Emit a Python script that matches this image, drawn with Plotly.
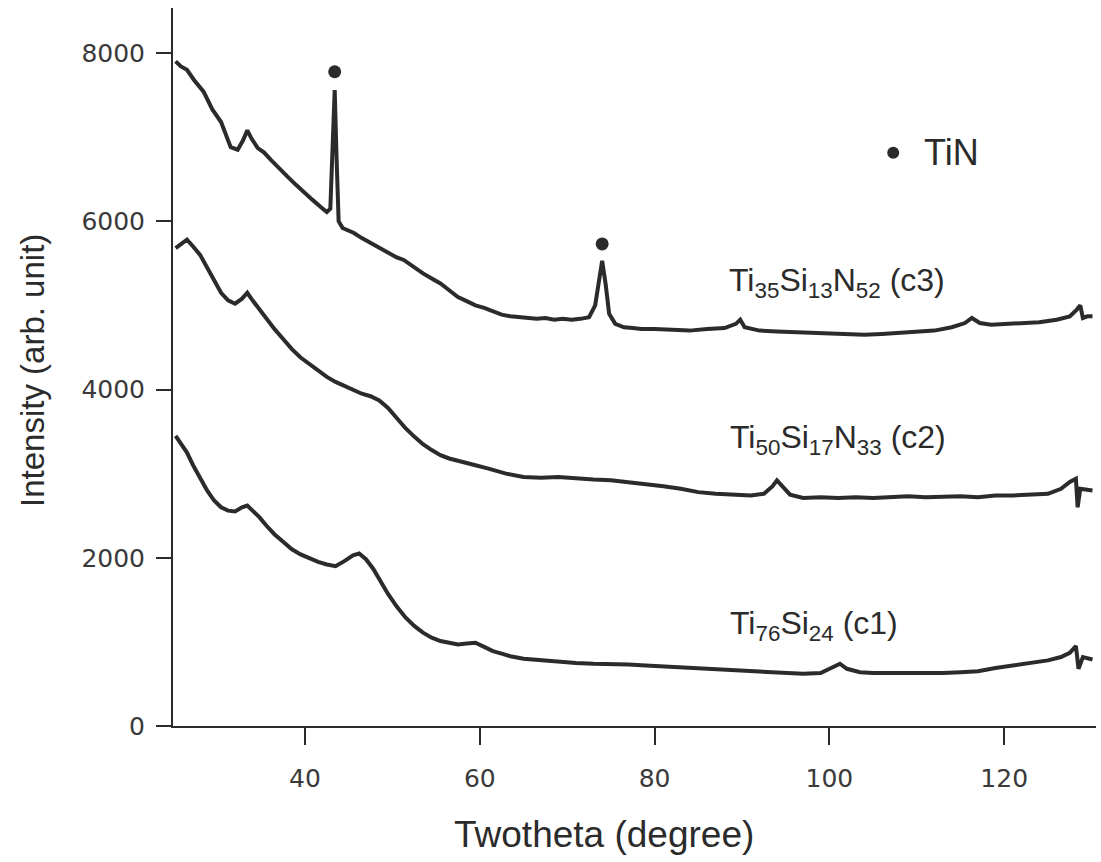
import plotly.graph_objects as go

# ---- data ----
c3_x = [25.2, 25.8, 26.5, 27.3, 28.4, 29.4, 30.4, 31.0, 31.5, 32.3, 32.9, 33.4, 33.9, 34.6, 35.3, 36.1, 37.0, 38.0, 39.0, 39.9,
        40.8, 41.8, 42.5, 42.9, 43.15, 43.4, 43.6, 43.85, 44.3, 45.0, 45.6, 46.5, 47.5, 48.5, 49.5, 50.5, 51.3, 52.5, 53.5, 54.5,
        55.5, 56.5, 57.5, 58.5, 59.5, 60.5, 61.5, 62.5, 63.5, 64.5, 65.5, 66.5, 67.5, 68.5, 69.5, 70.5, 71.5, 72.5, 73.2, 73.6,
        74.0, 74.4, 74.8, 75.5, 76.5, 77.5, 78.5, 80, 82, 84, 86, 88, 89.3, 89.8, 90.3, 92, 94, 96, 98, 100,
        102, 104, 106, 108, 110, 112, 114, 115.5, 116.3, 117.2, 118.5, 120, 122, 124, 126, 127.5, 128.3, 128.7, 129.0, 129.5, 130.1]
c3_y = [7900, 7840, 7800, 7680, 7540, 7330, 7180, 7000, 6880, 6850, 6960, 7080, 6980, 6870, 6820, 6730, 6630, 6530, 6430, 6340,
        6260, 6170, 6110, 6150, 6900, 7560, 6800, 6000, 5920, 5890, 5860, 5800, 5740, 5680, 5620, 5570, 5540, 5450, 5380, 5320,
        5260, 5180, 5100, 5050, 5000, 4970, 4930, 4890, 4870, 4860, 4850, 4840, 4850, 4830, 4840, 4830, 4840, 4860, 5000, 5300,
        5530, 5250, 4900, 4780, 4740, 4730, 4720, 4720, 4710, 4700, 4720, 4730, 4780, 4830, 4740, 4700, 4690, 4680, 4670, 4660,
        4660, 4650, 4660, 4670, 4680, 4700, 4740, 4790, 4850, 4790, 4770, 4780, 4790, 4800, 4830, 4870, 4950, 5000, 4850, 4870, 4870]

c2_x = [25.2, 25.8, 26.5, 27.2, 28.0, 28.8, 29.6, 30.4, 31.2, 32.0, 32.8, 33.4, 34.0, 34.8, 35.6, 36.5, 37.5, 38.5, 39.5, 40.5,
        41.5, 42.5, 43.5, 44.5, 45.5, 46.5, 47.5, 48.5, 49.5, 50.5, 51.5, 52.5, 53.5, 54.5, 55.5, 56.5, 57.5, 58.5, 59.5, 61,
        63, 65, 67, 69, 71, 73, 75, 77, 79, 81, 83, 85, 87, 89, 91, 92.5, 93.5, 94.0, 94.6, 95.5,
        97, 99, 101, 103, 105, 107, 109, 111, 113, 115, 117, 119, 121, 123, 125, 126.5, 127.5, 128.2, 128.4, 128.7, 129.3, 130.1]
c2_y = [5680, 5720, 5780, 5700, 5600, 5450, 5300, 5150, 5060, 5020, 5080, 5150, 5060, 4950, 4830, 4720, 4600, 4480, 4380, 4300,
        4220, 4150, 4090, 4040, 3990, 3950, 3920, 3870, 3780, 3660, 3540, 3440, 3350, 3280, 3220, 3180, 3150, 3120, 3100, 3060,
        3000, 2960, 2950, 2960, 2940, 2930, 2920, 2900, 2880, 2850, 2820, 2780, 2760, 2750, 2740, 2760, 2850, 2920, 2850, 2750,
        2710, 2720, 2710, 2720, 2710, 2720, 2730, 2720, 2730, 2730, 2720, 2740, 2740, 2750, 2760, 2820, 2900, 2940, 2600, 2820, 2810, 2800]

c1_x = [25.2, 25.8, 26.5, 27.2, 28.0, 28.8, 29.6, 30.4, 31.2, 32.0, 32.8, 33.4, 34.0, 34.8, 35.6, 36.5, 37.5, 38.5, 39.5, 40.5,
        41.5, 42.5, 43.5, 44.5, 45.5, 46.2, 47.0, 47.8, 48.6, 49.5, 50.5, 51.5, 52.5, 53.5, 54.5, 55.5, 56.5, 57.5, 58.5, 59.5,
        60.5, 61.5, 62.5, 63.5, 65, 67, 69, 71, 73, 75, 77, 79, 81, 83, 85, 87, 89, 91, 93, 95,
        97, 99, 100.5, 101.2, 102, 103.5, 105, 107, 109, 111, 113, 115, 117, 119, 121, 123, 125, 126.5, 127.5, 128.2, 128.5, 129, 129.6, 130.1]
c1_y = [3450, 3350, 3250, 3100, 2950, 2800, 2680, 2600, 2560, 2550, 2600, 2620, 2560, 2480, 2380, 2280, 2190, 2100, 2040, 1990,
        1950, 1920, 1900, 1960, 2030, 2050, 1980, 1870, 1730, 1570, 1420, 1290, 1190, 1110, 1050, 1010, 990, 970, 980, 990,
        940, 890, 860, 830, 800, 780, 760, 750, 740, 740, 730, 720, 710, 700, 690, 680, 660, 650, 640, 630,
        620, 630, 700, 740, 680, 640, 630, 630, 620, 630, 630, 640, 650, 690, 720, 750, 780, 820, 870, 950, 680, 820, 800, 790]

tin_peak_x = [43.4, 74.0]
tin_peak_y = [7777, 5730]

series_names = ["Ti<sub>35</sub>Si<sub>13</sub>N<sub>52</sub> (c3)",
                "Ti<sub>50</sub>Si<sub>17</sub>N<sub>33</sub> (c2)",
                "Ti<sub>76</sub>Si<sub>24</sub> (c1)"]
label_x = [88.3, 88.4, 88.4]
label_y = [5274, 3400, 1200]

y_ticks = [0, 2000, 4000, 6000, 8000]
x_ticks = [40, 60, 80, 100, 120]

INK = "#2b2b2b"
FONT = "Liberation Sans, Arial, sans-serif"

fig = go.Figure()
for xs, ys in [(c3_x, c3_y), (c2_x, c2_y), (c1_x, c1_y)]:
    fig.add_trace(go.Scatter(x=xs, y=ys, mode="lines",
                             line=dict(color=INK, width=4), showlegend=False))

fig.add_trace(go.Scatter(x=tin_peak_x, y=tin_peak_y, mode="markers",
                         marker=dict(color=INK, size=13), showlegend=False))
fig.add_trace(go.Scatter(x=[107.3], y=[6813], mode="markers",
                         marker=dict(color=INK, size=12), showlegend=False))

fig.add_annotation(x=110.6, y=6813, text="TiN", showarrow=False, xanchor="left", yanchor="middle",
                   font=dict(family=FONT, size=36, color=INK))

for name, lx, ly in zip(series_names, label_x, label_y):
    fig.add_annotation(x=lx, y=ly, text=name, showarrow=False, xanchor="left", yanchor="middle",
                       font=dict(family=FONT, size=32, color=INK))

fig.add_annotation(xref="paper", yref="paper", x=-0.1528, y=0.4958, text="Intensity (arb. unit)",
                   textangle=-90, showarrow=False, xanchor="center", yanchor="middle",
                   font=dict(family=FONT, size=33, color=INK))
fig.add_annotation(xref="paper", yref="paper", x=0.467, y=-0.1518, text="Twotheta (degree)",
                   showarrow=False, xanchor="center", yanchor="middle",
                   font=dict(family=FONT, size=37, color=INK))

fig.update_layout(
    width=1101, height=862,
    margin=dict(l=173, r=5, t=8, b=136),
    paper_bgcolor="white", plot_bgcolor="white",
    xaxis=dict(range=[24.9, 130.5], tickvals=x_ticks, ticks="outside", ticklen=17, tickwidth=2,
               tickcolor=INK, showline=True, linecolor=INK, linewidth=2, showgrid=False, zeroline=False,
               ticklabelstandoff=12,
               tickfont=dict(family="DejaVu Sans, sans-serif", size=25, color="#3a3a3a")),
    yaxis=dict(range=[0, 8535], tickvals=y_ticks, ticks="outside", ticklen=15, tickwidth=2,
               tickcolor=INK, showline=True, linecolor=INK, linewidth=2, showgrid=False, zeroline=False,
               ticklabelstandoff=6,
               tickfont=dict(family="DejaVu Sans, sans-serif", size=25, color="#3a3a3a")),
)

fig.write_html("out.html")
